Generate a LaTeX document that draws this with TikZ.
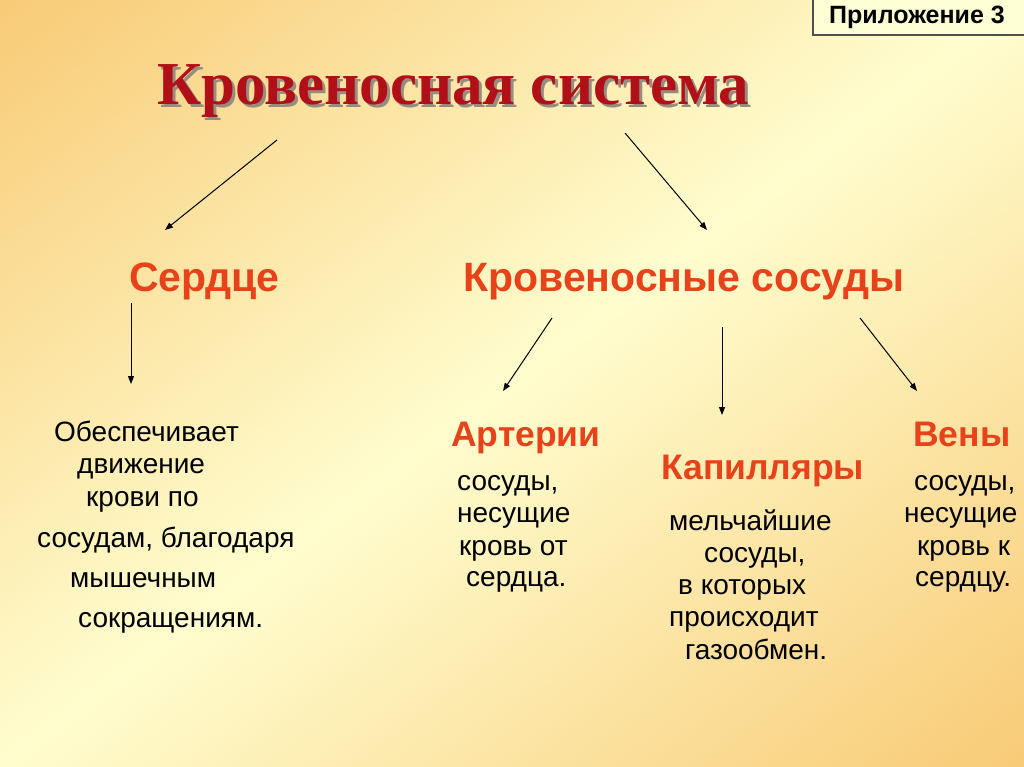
\documentclass[tikz,border=0pt]{standalone}
\usepackage{fontspec}
\setmainfont{Liberation Sans}
\newfontfamily\titlefont{Liberation Serif}
\usetikzlibrary{arrows.meta}
\definecolor{bgO}{RGB}{248,202,118}
\definecolor{bgL}{RGB}{255,253,206}
\definecolor{titleRed}{RGB}{178,16,24}
\definecolor{titleShadow}{RGB}{150,140,130}
\definecolor{headRed}{RGB}{232,66,26}
\definecolor{boxFill}{RGB}{255,255,214}
\definecolor{boxLine}{RGB}{80,80,80}
\newcommand{\shadowed}[1]{\makebox[0pt][l]{\hspace{3pt}\raisebox{-3pt}{\textcolor{titleShadow}{#1}}}\textcolor{titleRed}{#1}}
\tikzset{
  bodytxt/.style={anchor=base west, inner sep=0pt, text=black, font=\fontsize{28}{33}\selectfont},
  headtxt/.style={anchor=base west, inner sep=0pt, text=headRed, font=\fontsize{35.5}{40}\selectfont\bfseries},
  bighead/.style={anchor=base west, inner sep=0pt, text=headRed, font=\fontsize{41}{46}\selectfont\bfseries},
  titletxt/.style={anchor=base west, inner sep=0pt, font=\titlefont\fontsize{61}{70}\selectfont\bfseries},
  arr/.style={-{Triangle[length=8pt,width=6pt]}, line width=1pt, draw=black}
}
\begin{document}
\begin{tikzpicture}[x=1pt,y=-1pt]
\useasboundingbox (0,0) rectangle (1024,767);
% background: diagonal gradient, light along the anti-diagonal
\begin{scope}
\clip (0,0) rectangle (1024,767);
\begin{scope}[shift={(512,383.5)}, rotate=-53.17]
\foreach \i in {-60,...,59}{
  \pgfmathsetmacro\xa{\i*10.5}
  \pgfmathsetmacro\xb{\i*10.5+11}
  \pgfmathtruncatemacro\p{min(100,abs(\i+0.5)*10.5/614*100)}
  \fill[bgO!\p!bgL] (\xa,-900) rectangle (\xb,900);
}
\end{scope}
\end{scope}
% appendix label box
\draw[fill=boxFill, draw=boxLine, line width=1.2pt] (813,-3) rectangle (1027,35);
\node[anchor=base west, inner sep=0pt, font=\fontsize{25}{29}\selectfont\bfseries] (app) at (829,24) {Приложение 3};
% title with shadow
\node[titletxt] (title) at (157,105) {\shadowed{Кровеносная система}};
% headers
\node[bighead] (heart) at (129,291) {Сердце};
\node[bighead] (vessels) at (463,291) {Кровеносные сосуды};
\node[headtxt] (arteries) at (451,446) {Артерии};
\node[headtxt] (capill) at (661,479) {Капилляры};
\node[headtxt] (veins) at (913,446) {Вены};
% heart text
\node[bodytxt] (h1) at (54,441) {Обеспечивает};
\node[bodytxt] (h2) at (77,473) {движение};
\node[bodytxt] (h3) at (86,506) {крови по};
\node[bodytxt] (h4) at (37,547) {сосудам, благодаря};
\node[bodytxt] (h5) at (70,587) {мышечным};
\node[bodytxt] (h6) at (78,627) {сокращениям.};
% arteries text
\node[bodytxt] (a1) at (457,490) {сосуды,};
\node[bodytxt] (a2) at (457,522) {несущие};
\node[bodytxt] (a3) at (459,555) {кровь от};
\node[bodytxt] (a4) at (466,586) {сердца.};
% capillaries text
\node[bodytxt] (c1) at (669,530) {мельчайшие};
\node[bodytxt] (c2) at (704,562) {сосуды,};
\node[bodytxt] (c3) at (678,594) {в которых};
\node[bodytxt] (c4) at (669,626) {происходит};
\node[bodytxt] (c5) at (685,659) {газообмен.};
% veins text
\node[bodytxt] (v1) at (914,490) {сосуды,};
\node[bodytxt] (v2) at (904,522) {несущие};
\node[bodytxt] (v3) at (917,555) {кровь к};
\node[bodytxt] (v4) at (915,586) {сердцу.};
% arrow end points
\coordinate (s1) at (277,140); \coordinate (e1) at (165,230);
\coordinate (s2) at (625,133); \coordinate (e2) at (707,230);
\coordinate (s3) at (131,303); \coordinate (e3) at (131,384);
\coordinate (s4) at (552,318); \coordinate (e4) at (503,391);
\coordinate (s5) at (722,327); \coordinate (e5) at (722,415);
\coordinate (s6) at (860,318); \coordinate (e6) at (917,391);
\draw[arr] (s1) -- (e1);
\draw[arr] (s2) -- (e2);
\draw[arr] (s3) -- (e3);
\draw[arr] (s4) -- (e4);
\draw[arr] (s5) -- (e5);
\draw[arr] (s6) -- (e6);
\end{tikzpicture}
\end{document}
